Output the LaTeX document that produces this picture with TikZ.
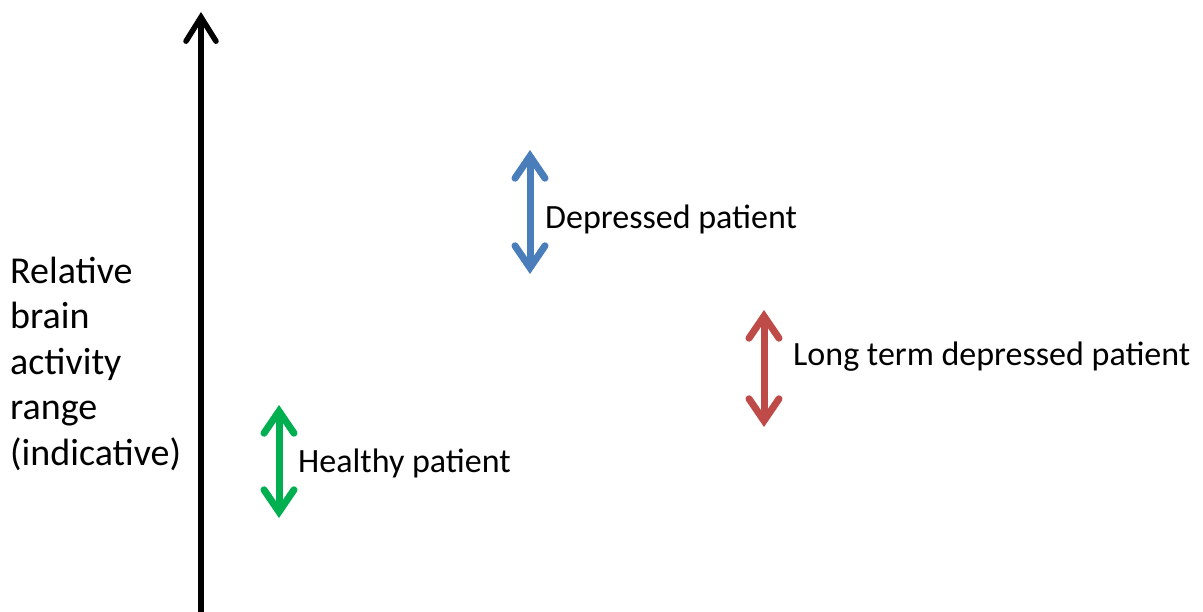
\documentclass[tikz,border=0pt]{standalone}
\usepackage{fontspec}
\setmainfont{Carlito}
\usetikzlibrary{arrows.meta}
\definecolor{dblue}{HTML}{4A7EBB}
\definecolor{lred}{HTML}{BE4B48}
\definecolor{hgreen}{HTML}{00B050}
\begin{document}
\begin{tikzpicture}[x=1pt,y=-1pt,
  rng/.style={line width=7pt,{Straight Barb[length=22pt,width=30pt,line cap=round]}-{Straight Barb[length=22pt,width=30pt,line cap=round]}},
  lbl/.style={font=\fontsize{34}{40}\selectfont,anchor=base west,inner sep=0pt}]
\useasboundingbox (0,0) rectangle (1203,612);
\coordinate (ab) at (201,612);
\coordinate (at) at (201,12);
\draw[line width=5.5pt,-{Straight Barb[length=24pt,width=30pt,line cap=round]}] (ab) -- (at);
\coordinate (d1) at (530,150);
\coordinate (d2) at (530,274);
\draw[rng,dblue] (d1) -- (d2);
\coordinate (r1) at (764,310);
\coordinate (r2) at (764,427);
\draw[rng,lred] (r1) -- (r2);
\coordinate (h1) at (279,405);
\coordinate (h2) at (279,518);
\draw[rng,hgreen] (h1) -- (h2);
\node[lbl] (dl) at (545,229) {Depressed patient};
\node[lbl] (rl) at (793,366) {Long term depressed patient};
\node[lbl] (hl) at (298,472) {Healthy patient};
\node[font=\fontsize{38}{45.5}\selectfont,anchor=base west,inner sep=0pt,align=left] (yl) at (10,465) {Relative\\brain\\activity\\range\\(indicative)};
\end{tikzpicture}
\end{document}
